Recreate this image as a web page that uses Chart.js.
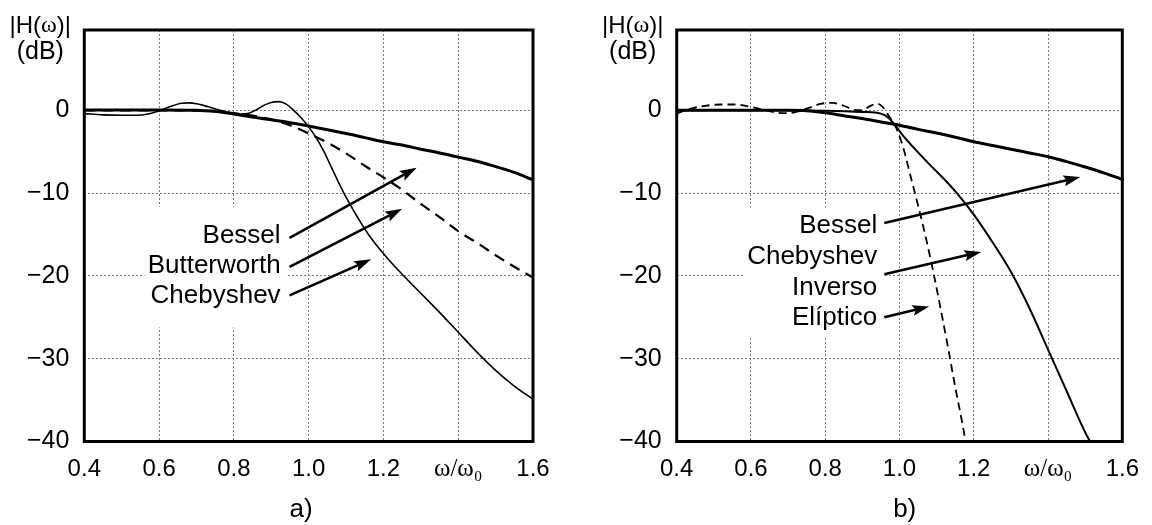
<!DOCTYPE html>
<html>
<head>
<meta charset="utf-8">
<script src="https://cdn.jsdelivr.net/npm/chart.js@4.4.1/dist/chart.umd.min.js"></script>
<style>
  html, body { margin: 0; padding: 0; background: #fff; }
  #wrap { position: relative; width: 1152px; height: 525px; overflow: hidden; }
  canvas { position: absolute; top: 0; }
</style>
</head>
<body>
<div id="wrap">
  <canvas id="panelA" width="576" height="525" style="left:0"></canvas>
  <canvas id="panelB" width="576" height="525" style="left:576px"></canvas>
</div>
<script>
// ---- axis ticks (shared by both panels) ----
const xTickValues = [0.4, 0.6, 0.8, 1.0, 1.2, 1.4, 1.6];
const xTickLabels = ['0.4', '0.6', '0.8', '1.0', '1.2', 'ω/ω₀', '1.6'];
const yTickValues = [-40, -30, -20, -10, 0];
const yTickLabels = ['−40', '−30', '−20', '−10', '0'];

// ---- panel a) : Bessel, Butterworth, Chebyshev ----
const besselW_a  = [0.40, 0.50, 0.60, 0.70, 0.75, 0.80, 0.85, 0.90, 0.95, 1.00, 1.05, 1.10, 1.15, 1.20, 1.25, 1.30, 1.35, 1.40, 1.45, 1.50, 1.55, 1.60];
const besselDb_a = [0.05, 0.05, 0.05, 0.0, -0.1, -0.45, -0.8, -1.15, -1.5, -1.9, -2.35, -2.8, -3.3, -3.8, -4.2, -4.7, -5.15, -5.65, -6.15, -6.8, -7.5, -8.4];

const butterW_a  = [0.40, 0.50, 0.60, 0.70, 0.75, 0.80, 0.85, 0.90, 0.95, 1.00, 1.05, 1.10, 1.15, 1.20, 1.25, 1.30, 1.35, 1.40, 1.45, 1.50, 1.55, 1.60];
const butterDb_a = [0.0, 0.0, 0.0, -0.05, -0.15, -0.35, -0.65, -1.1, -1.8, -2.8, -3.9, -5.2, -6.7, -8.1, -9.6, -11.3, -12.9, -14.6, -16.0, -17.5, -18.9, -20.2];

const chebW_a  = [0.40, 0.45, 0.50, 0.54, 0.57, 0.60, 0.63, 0.66, 0.68, 0.70, 0.73, 0.76, 0.79, 0.82, 0.84, 0.86, 0.88, 0.90, 0.92, 0.94, 0.96, 0.98, 1.00, 1.02, 1.04, 1.06, 1.08, 1.10, 1.12, 1.14, 1.16, 1.18, 1.20, 1.225, 1.25, 1.30, 1.35, 1.40, 1.45, 1.50, 1.55, 1.60];
const chebDb_a = [-0.4, -0.55, -0.6, -0.6, -0.45, -0.05, 0.45, 0.85, 0.9, 0.8, 0.45, 0.05, -0.3, -0.45, -0.35, 0.05, 0.6, 0.95, 1.05, 0.75, 0.0, -0.9, -2.0, -3.3, -4.9, -6.8, -8.7, -10.5, -12.1, -13.6, -15.0, -16.2, -17.3, -18.6, -19.8, -22.1, -24.4, -26.8, -29.2, -31.4, -33.3, -34.9];

// ---- panel b) : Bessel, Chebyshev inverso, Elíptico ----
const besselW_b  = [0.40, 0.50, 0.60, 0.70, 0.75, 0.80, 0.85, 0.90, 0.95, 1.00, 1.05, 1.10, 1.15, 1.20, 1.25, 1.30, 1.35, 1.40, 1.45, 1.50, 1.55, 1.60];
const besselDb_b = [0.0, 0.0, 0.0, 0.0, -0.05, -0.3, -0.65, -1.0, -1.4, -1.8, -2.3, -2.75, -3.25, -3.8, -4.25, -4.7, -5.15, -5.6, -6.2, -6.85, -7.55, -8.35];

const invChebW_b  = [0.40, 0.50, 0.60, 0.70, 0.80, 0.90, 0.95, 0.97, 0.99, 1.01, 1.04, 1.08, 1.12, 1.16, 1.20, 1.25, 1.30, 1.35, 1.40, 1.45, 1.50, 1.513];
const invChebDb_b = [0.0, 0.0, 0.0, 0.0, -0.05, -0.2, -0.4, -0.9, -1.9, -3.1, -4.6, -6.5, -8.3, -10.3, -12.6, -15.9, -19.5, -23.9, -28.9, -33.9, -38.9, -40.0];

const ellipW_b  = [0.40, 0.43, 0.47, 0.52, 0.56, 0.60, 0.64, 0.67, 0.70, 0.73, 0.76, 0.79, 0.82, 0.85, 0.88, 0.90, 0.92, 0.94, 0.955, 0.97, 0.99, 1.01, 1.03, 1.05, 1.07, 1.09, 1.11, 1.13, 1.15, 1.17, 1.178];
const ellipDb_b = [-0.4, 0.1, 0.5, 0.7, 0.7, 0.4, 0.0, -0.3, -0.35, -0.1, 0.35, 0.8, 0.9, 0.55, 0.05, 0.0, 0.5, 0.8, 0.4, -0.6, -2.0, -4.5, -8.0, -11.5, -15.2, -19.3, -23.8, -28.5, -33.4, -38.0, -40.0];

const SANS  = '"Liberation Sans", Arial, Helvetica, sans-serif';
const SERIF = '"Liberation Serif", "Times New Roman", serif';

function pts(w, db) { return w.map((v, i) => ({ x: v, y: db[i] })); }

// arrow with a slightly notched head, from (x1,y1) to tip (x2,y2)
function drawArrow(ctx, x1, y1, x2, y2) {
  const a = Math.atan2(y2 - y1, x2 - x1);
  const len = 17, half = 5.5;
  const ca = Math.cos(a), sa = Math.sin(a);
  const bx = x2 - len * ca, by = y2 - len * sa;
  ctx.beginPath();
  ctx.moveTo(x1, y1);
  ctx.lineTo(bx + 4 * ca, by + 4 * sa);
  ctx.lineWidth = 2.6;
  ctx.stroke();
  ctx.beginPath();
  ctx.moveTo(x2, y2);
  ctx.lineTo(bx - half * sa, by + half * ca);
  ctx.lineTo(bx + 3 * ca, by + 3 * sa);
  ctx.lineTo(bx + half * sa, by - half * ca);
  ctx.closePath();
  ctx.fill();
}

// draws text pieces (each with its own font) centred on cx
function drawPieces(ctx, pieces, cx, cy) {
  let total = 0;
  pieces.forEach(p => { ctx.font = p[1]; total += ctx.measureText(p[0]).width; });
  let x = cx - total / 2;
  ctx.textAlign = 'left';
  ctx.textBaseline = 'middle';
  pieces.forEach(p => { ctx.font = p[1]; ctx.fillText(p[0], x, cy); x += ctx.measureText(p[0]).width; });
}

const notesPlugin = {
  id: 'notes',
  beforeDatasetsDraw(chart, args, o) {
    // white panel behind the curve names
    const { ctx } = chart;
    const xs = chart.scales.x, ys = chart.scales.y;
    ctx.save();
    ctx.font = `${o.fontSize}px ${SANS}`;
    const rx = xs.getPixelForValue(o.labelAt[0]);
    const by = ys.getPixelForValue(o.labelAt[1]);
    let maxW = 0;
    o.labels.forEach(t => { maxW = Math.max(maxW, ctx.measureText(t).width); });
    const n = o.labels.length;
    const top = by - o.boxPad[0];
    const bottom = by + (n - 1) * o.lineGap + o.boxPad[2];
    ctx.fillStyle = '#fff';
    ctx.fillRect(rx - maxW - o.boxPad[3], top, maxW + o.boxPad[3] + o.boxPad[1], bottom - top);
    ctx.restore();
  },
  afterDatasetsDraw(chart, args, o) {
    const { ctx, chartArea: ca } = chart;
    const xs = chart.scales.x, ys = chart.scales.y;
    ctx.save();
    // plot frame
    ctx.strokeStyle = '#000';
    ctx.lineWidth = 3;
    ctx.strokeRect(ca.left, ca.top, ca.right - ca.left, ca.bottom - ca.top);

    // curve names
    ctx.fillStyle = '#000';
    ctx.font = `${o.fontSize}px ${SANS}`;
    ctx.textAlign = 'right';
    ctx.textBaseline = 'alphabetic';
    const rx = xs.getPixelForValue(o.labelAt[0]);
    const by = ys.getPixelForValue(o.labelAt[1]);
    o.labels.forEach((t, i) => ctx.fillText(t, rx, by + i * o.lineGap));

    // arrows
    o.arrows.forEach(a => {
      drawArrow(ctx,
        xs.getPixelForValue(a[0]), ys.getPixelForValue(a[1]),
        xs.getPixelForValue(a[2]), ys.getPixelForValue(a[3]));
    });

    // y-axis title
    const tx = ca.left - 44;
    const f = `24px ${SANS}`;
    drawPieces(ctx, [['|H(', f], ['ω', `24px ${SERIF}`], [')|', f]], tx, 26);
    drawPieces(ctx, [['(dB)', `25px ${SANS}`]], tx, 52.5);

    // panel caption
    ctx.font = `26px ${SANS}`;
    ctx.textAlign = 'center';
    ctx.textBaseline = 'middle';
    ctx.fillText(o.caption, xs.getPixelForValue(o.captionAt), 510);
    ctx.restore();
  }
};

function makePanel(canvasId, datasets, notes, area) {
  return new Chart(document.getElementById(canvasId), {
    type: 'line',
    data: { datasets },
    options: {
      responsive: false,
      animation: false,
      devicePixelRatio: 1,
      layout: { padding: { left: 0, right: 576 - area.right, top: area.top, bottom: 0 } },
      plugins: { legend: { display: false }, tooltip: { enabled: false }, notes },
      elements: {
        point: { radius: 0 },
        line: { cubicInterpolationMode: 'monotone', borderColor: '#000', fill: false, borderCapStyle: 'butt' }
      },
      scales: {
        x: {
          type: 'linear', min: 0.4, max: 1.6,
          afterFit(s) { s.height = 525 - area.bottom; },
          afterBuildTicks(s) { s.ticks = xTickValues.map(v => ({ value: v })); },
          grid: { color: '#7a7a7a', lineWidth: 1, drawTicks: false },
          border: { display: false, dash: [2, 2] },
          ticks: {
            autoSkip: false, maxRotation: 0, color: '#000', padding: 13,
            callback: (v, i) => xTickLabels[i],
            font: (c) => (c.tick && Math.abs(c.tick.value - 1.4) < 1e-9)
              ? { family: SERIF, size: 25 }
              : { family: SANS, size: 24 }
          }
        },
        y: {
          type: 'linear', min: -40, max: 9.7,
          afterFit(s) { s.width = area.left; },
          afterBuildTicks(s) { s.ticks = yTickValues.map(v => ({ value: v })); },
          grid: { color: '#7a7a7a', lineWidth: 1, drawTicks: false },
          border: { display: false, dash: [2, 2] },
          ticks: {
            color: '#000', padding: 15,
            callback: (v, i) => yTickLabels[i],
            font: { family: SANS, size: 25 }
          }
        }
      }
    },
    plugins: [notesPlugin]
  });
}

makePanel('panelA', [
  { label: 'Butterworth', data: pts(butterW_a, butterDb_a), borderWidth: 2.2, borderDash: [11, 7] },
  { label: 'Chebyshev', data: pts(chebW_a, chebDb_a), borderWidth: 1.6 },
  { label: 'Bessel', data: pts(besselW_a, besselDb_a), borderWidth: 3 }
], {
  fontSize: 26,
  labels: ['Bessel', 'Butterworth', 'Chebyshev'],
  labelAt: [0.925, -16.0],
  lineGap: 30.3,
  boxPad: [36, 7, 24, 3],
  arrows: [
    [0.949, -15.4, 1.289, -6.93],
    [0.949, -18.9, 1.250, -11.9],
    [0.949, -22.35, 1.167, -18.0]
  ],
  caption: 'a)',
  captionAt: 0.98
}, { left: 84.3, right: 533, top: 29.5, bottom: 441.5 });

makePanel('panelB', [
  { label: 'Elíptico', data: pts(ellipW_b, ellipDb_b), borderWidth: 1.8, borderDash: [8, 5] },
  { label: 'Chebyshev Inverso', data: pts(invChebW_b, invChebDb_b), borderWidth: 2 },
  { label: 'Bessel', data: pts(besselW_b, besselDb_b), borderWidth: 3 }
], {
  fontSize: 26,
  labels: ['Bessel', 'Chebyshev', 'Inverso', 'Elíptico'],
  labelAt: [0.940, -14.87],
  lineGap: 30.6,
  boxPad: [26, 7, 13, 3],
  arrows: [
    [0.959, -13.6, 1.487, -8.06],
    [0.959, -19.8, 1.220, -17.1],
    [0.959, -25.0, 1.080, -23.7]
  ],
  caption: 'b)',
  captionAt: 1.014
}, { left: 100.7, right: 550.7, top: 29.5, bottom: 441.5 });
</script>
</body>
</html>
